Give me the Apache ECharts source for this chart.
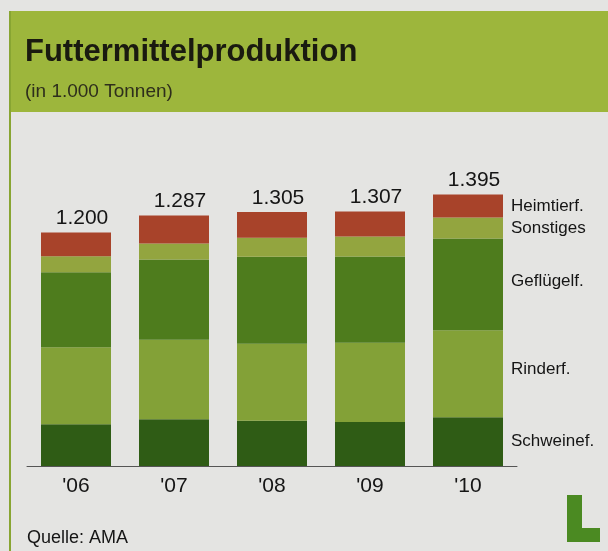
<!DOCTYPE html>
<html>
<head>
<meta charset="utf-8">
<script src="https://cdn.jsdelivr.net/npm/echarts@6/dist/echarts.min.js"></script>
<style>
html, body { margin: 0; padding: 0; background: #e4e4e2; }
#chart { width: 608px; height: 551px; }
</style>
</head>
<body>
<div id="chart"></div>
<script>
// Werte in 1.000 Tonnen
var years = ["'06", "'07", "'08", "'09", "'10"];
var schweinef = [215, 240, 233, 226, 251];
var rinderf = [395, 408, 395, 407, 446];
var gefluegelf = [385, 413, 447, 443, 472];
var sonstiges = [82, 82, 97, 103, 108];
var heimtierf = [123, 144, 133, 128, 118];
var totals = [1200, 1287, 1305, 1307, 1395];

var seriesNames = ['Schweinef.', 'Rinderf.', 'Geflügelf.', 'Sonstiges', 'Heimtierf.'];
var seriesColors = ['#2f5c15', '#83a137', '#4e7c1d', '#93a53f', '#a8432a'];
var seriesData = [schweinef, rinderf, gefluegelf, sonstiges, heimtierf];
var labelOffsets = [[0, 0], [0, -4], [0, -3], [0, 0], [0, 0]];

function deNum(v) {
    return String(v).replace(/\B(?=(\d{3})+(?!\d))/g, '.');
}

var chart = echarts.init(document.getElementById('chart'));

var series = [];
for (var s = 0; s < seriesData.length; s++) {
    var data = [];
    for (var i = 0; i < seriesData[s].length; i++) {
        if (i === seriesData[s].length - 1) {
            // Beschriftung rechts neben dem letzten Balken
            data.push({
                value: seriesData[s][i],
                label: {
                    show: true,
                    position: 'right',
                    distance: 8,
                    offset: labelOffsets[s],
                    formatter: seriesNames[s],
                    color: '#151515',
                    fontSize: 17,
                    fontFamily: 'Liberation Sans'
                }
            });
        } else {
            data.push(seriesData[s][i]);
        }
    }
    series.push({
        name: seriesNames[s],
        type: 'bar',
        stack: 'total',
        barWidth: 70,
        itemStyle: { color: seriesColors[s] },
        data: data
    });
}

// Summen über den Balken
series.push({
    name: 'Summe',
    type: 'line',
    data: totals,
    symbol: 'circle',
    symbolSize: 1,
    itemStyle: { color: 'rgba(0,0,0,0)' },
    lineStyle: { opacity: 0 },
    z: 5,
    label: {
        show: true,
        position: 'top',
        distance: 3,
        offset: [6, 0],
        color: '#151515',
        fontSize: 21,
        fontFamily: 'Liberation Sans',
        formatter: function (p) { return deNum(p.value); }
    }
});

var option = {
    backgroundColor: '#e4e4e2',
    animation: false,
    graphic: [
        {
            type: 'rect',
            shape: { x: 9, y: 11, width: 599, height: 101 },
            style: { fill: '#9db63c' },
            z: -10
        },
        {
            type: 'rect',
            shape: { x: 9, y: 11, width: 2, height: 540 },
            style: { fill: '#88a532' },
            z: -9
        },
        {
            type: 'polygon',
            shape: { points: [[567, 495], [582, 495], [582, 528], [600, 528], [600, 542], [567, 542]] },
            style: { fill: '#4b8a22' }
        },
        {
            type: 'text',
            left: 27,
            top: 529,
            style: {
                text: 'Quelle: AMA',
                fill: '#151515',
                font: '18px "Liberation Sans"'
            }
        }
    ],
    title: {
        text: 'Futtermittelproduktion',
        subtext: '(in 1.000 Tonnen)',
        left: 20,
        top: 32,
        itemGap: 14,
        textStyle: {
            color: '#1a1a10',
            fontSize: 31,
            fontWeight: 'bold',
            fontFamily: 'Liberation Sans'
        },
        subtextStyle: {
            color: '#2e2e1c',
            fontSize: 19,
            fontFamily: 'Liberation Sans'
        }
    },
    grid: {
        left: 27,
        width: 490,
        top: 174,
        height: 292
    },
    xAxis: {
        type: 'category',
        data: years,
        axisLine: { lineStyle: { color: '#555', width: 1 } },
        axisTick: { show: false },
        axisLabel: {
            color: '#151515',
            fontSize: 21,
            fontFamily: 'Liberation Sans',
            margin: 10
        }
    },
    yAxis: {
        type: 'value',
        min: 0,
        max: 1500,
        show: false,
        splitLine: { show: false }
    },
    series: series
};

chart.setOption(option);
</script>
</body>
</html>
